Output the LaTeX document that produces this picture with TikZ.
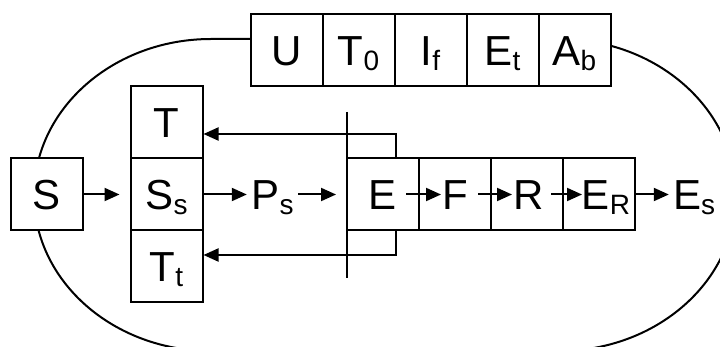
\documentclass[tikz,border=0pt]{standalone}
\usepackage{fontspec}
\setmainfont{Liberation Sans}
\usetikzlibrary{arrows.meta}
\newcommand{\subs}[1]{\raisebox{-5pt}{\fontsize{28}{28}\selectfont #1}}
\begin{document}
\begin{tikzpicture}[x=1pt,y=-1pt,
  every node/.style={font=\fontsize{42}{50}\selectfont},
  box/.style={draw, fill=white, line width=2pt, minimum width=72pt, minimum height=72pt,
    inner sep=0pt, text height=30pt, text depth=0pt},
  lbl/.style={inner sep=0pt, text height=30pt, text depth=0pt},
  arr/.style={line width=2pt, -{Triangle[length=15pt,width=13pt]}},
  ln/.style={line width=2pt}]
\useasboundingbox (0,0) rectangle (720,347);
\clip (0,0) rectangle (720,347);
% outer loop
\draw[ln] (211,39) -- (559,39)
  arc[start angle=90, end angle=-90, x radius=177pt, y radius=156pt]
  -- (211,351)
  arc[start angle=270, end angle=90, x radius=177pt, y radius=156pt] -- cycle;
% top row
\node[box] (U)  at (286.5,50.5) {U};
\node[box] (T0) at (358.5,50.5) {T\subs{0}};
\node[box] (If) at (430.5,50.5) {I\subs{f}};
\node[box] (Et) at (502.5,50.5) {E\subs{t}};
\node[box] (Ab) at (574.5,50.5) {A\subs{b}};
% left column
\node[box] (T)  at (166.5,122.5) {T};
\node[box] (Ss) at (166.5,194.5) {S\subs{s}};
\node[box] (Tt) at (166.5,266.5) {T\subs{t}};
\node[box] (S)  at (46.5,194.5) {S};
% chain
\node[box] (E)  at (383,194.5) {E};
\node[box] (F)  at (455,194.5) {F};
\node[box] (R)  at (527,194.5) {\hspace*{4pt}R};
\node[box] (ER) at (599,194.5) {\hspace*{14pt}E\subs{R}};
\node[lbl] (Ps) at (272.5,194.5) {P\subs{s}};
\node[lbl] (Es) at (694,194.5) {E\subs{s}};
% arrows
\draw[arr, shorten >=10pt] (S.east) -- (Ss.west);
\draw[arr, shorten >=4.5pt] (Ss.east) -- (Ps.west);
\draw[arr, shorten <=4.5pt, shorten >=10pt] (Ps.east) -- (E.west);
\draw[arr] ([xshift=-14pt]E.east) -- ([xshift=23pt]F.west);
\draw[arr] ([xshift=-14pt]F.east) -- ([xshift=22pt]R.west);
\draw[arr] ([xshift=-13pt]R.east) -- ([xshift=20pt]ER.west);
\draw[arr, shorten >=4pt] (ER.east) -- (Es.west);
% feedback
\coordinate (fbtop) at (396,134);
\coordinate (fbbot) at (396,255);
\draw[arr] ([xshift=13pt]E.north) -- (fbtop) -- (T.east |- fbtop);
\draw[arr] ([xshift=13pt]E.south) -- (fbbot) -- (Tt.east |- fbbot);
% vertical bar
\coordinate (vt) at (347,112);
\coordinate (vb) at (347,278);
\draw[ln] (vt) -- (vb);
\end{tikzpicture}
\end{document}
